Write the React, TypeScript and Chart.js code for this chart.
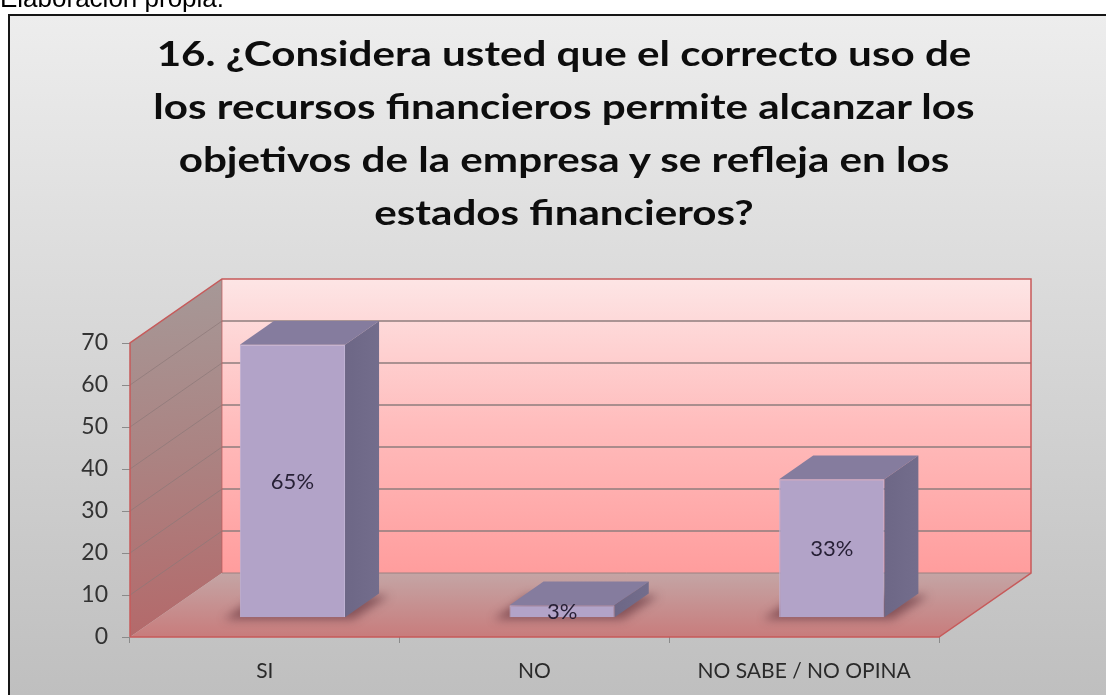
import React, { useEffect, useRef } from "react";
import { Chart, registerables } from "chart.js";

Chart.register(...registerables);

// ---------- data ----------
const categories = ["SI", "NO", "NO SABE / NO OPINA"];
const values = [65, 3, 33];
const valueLabels = ["65%", "3%", "33%"];
const yTickValues = [0, 10, 20, 30, 40, 50, 60, 70];
const titleLines = [
  "16. ¿Considera usted que el correcto uso de",
  "los recursos financieros permite alcanzar los",
  "objetivos de la empresa y se refleja en los",
  "estados financieros?",
];
const caption = "Elaboración propia.";

// ---------- layout / style ----------
const W = 1106;
const H = 695;
const DX = 92; // depth offset of the 3D box
const DY = -64;
const F1 = 0.3; // bar front face depth fraction
const F2 = 0.67; // bar back face depth fraction

function poly(ctx: CanvasRenderingContext2D, pts: number[][]) {
  ctx.beginPath();
  ctx.moveTo(pts[0][0], pts[0][1]);
  for (let i = 1; i < pts.length; i++) ctx.lineTo(pts[i][0], pts[i][1]);
  ctx.closePath();
}

const threeD = {
  id: "threeD",
  beforeDraw(chart: any) {
    const ctx: CanvasRenderingContext2D = chart.ctx;
    ctx.save();
    const g = ctx.createLinearGradient(0, 16, 0, H);
    g.addColorStop(0, "#ededed");
    g.addColorStop(1, "#bfbfbf");
    ctx.fillStyle = g;
    ctx.fillRect(9, 15, W - 9, H - 15);
    ctx.fillStyle = "#161616";
    ctx.fillRect(8, 14, W - 8, 2);
    ctx.fillRect(8, 14, 2, H - 14);
    ctx.restore();
  },
  beforeDatasetsDraw(chart: any) {
    const ctx: CanvasRenderingContext2D = chart.ctx;
    const a = chart.chartArea;
    const ys = chart.scales.y;
    const L = a.left, R = a.right, T = a.top, B = a.bottom;
    ctx.save();
    // back wall
    let g = ctx.createLinearGradient(0, T + DY, 0, B + DY);
    g.addColorStop(0, "#fde5e5");
    g.addColorStop(0.5, "#ffbcbc");
    g.addColorStop(1, "#ff9d9d");
    ctx.fillStyle = g;
    ctx.fillRect(L + DX, T + DY, R - L, B - T);
    // left wall
    g = ctx.createLinearGradient(L, T + DY, L + DX * 0.3, B);
    g.addColorStop(0, "#a69998");
    g.addColorStop(0.5, "#ab8382");
    g.addColorStop(1, "#b4696a");
    ctx.fillStyle = g;
    poly(ctx, [[L, T], [L + DX, T + DY], [L + DX, B + DY], [L, B]]);
    ctx.fill();
    // floor
    g = ctx.createLinearGradient(0, B + DY, 0, B);
    g.addColorStop(0, "#c4a5a5");
    g.addColorStop(1, "#c87c7c");
    ctx.fillStyle = g;
    poly(ctx, [[L, B], [R, B], [R + DX, B + DY], [L + DX, B + DY]]);
    ctx.fill();
    // gridlines
    for (const v of yTickValues) {
      const py = ys.getPixelForValue(v);
      if (v > 0 && v < 70) {
        ctx.strokeStyle = "#8e7c7c";
        ctx.lineWidth = 1.5;
        ctx.beginPath();
        ctx.moveTo(L + DX, py + DY);
        ctx.lineTo(R + DX, py + DY);
        ctx.stroke();
        ctx.strokeStyle = "rgba(140,120,120,0.7)";
        ctx.lineWidth = 1;
        ctx.beginPath();
        ctx.moveTo(L, py);
        ctx.lineTo(L + DX, py + DY);
        ctx.stroke();
      }
    }
    ctx.strokeStyle = "#9a8080";
    ctx.lineWidth = 1;
    ctx.beginPath();
    ctx.moveTo(L + DX, B + DY);
    ctx.lineTo(R + DX, B + DY);
    ctx.stroke();
    // red edges
    ctx.strokeStyle = "#c65a5a";
    ctx.lineWidth = 1.5;
    ctx.beginPath();
    ctx.moveTo(L, B);
    ctx.lineTo(L, T);
    ctx.lineTo(L + DX, T + DY);
    ctx.lineTo(R + DX, T + DY);
    ctx.lineTo(R + DX, B + DY);
    ctx.lineTo(R, B);
    ctx.lineTo(L, B);
    ctx.stroke();
    ctx.strokeStyle = "rgba(190,90,90,0.7)";
    ctx.lineWidth = 1;
    ctx.beginPath();
    ctx.moveTo(L + DX, T + DY);
    ctx.lineTo(L + DX, B + DY);
    ctx.stroke();
    // bar shadows on floor
    const meta = chart.getDatasetMeta(0);
    const fx = DX * F1, fy = DY * F1;
    const sdx = DX * (F2 - F1), sdy = DY * (F2 - F1);
    ctx.filter = "blur(5px)";
    ctx.fillStyle = "rgba(80,35,45,0.55)";
    meta.data.forEach((bar: any) => {
      const p = bar.getProps(["x", "width", "base"], true);
      const x0 = p.x - p.width / 2 + fx;
      const x1 = p.x + p.width / 2 + fx;
      const yb = p.base + fy;
      poly(ctx, [
        [x0 - 16, yb + 2],
        [x1 + 8, yb + 2],
        [x1 + sdx + 10, yb + sdy + 2],
        [x0 + sdx - 16, yb + sdy + 2],
      ]);
      ctx.fill();
    });
    ctx.filter = "none";
    ctx.restore();
    // translate so the library draws the bar front faces at their depth
    ctx.save();
    ctx.translate(fx, fy);
  },
  afterDatasetsDraw(chart: any) {
    const ctx: CanvasRenderingContext2D = chart.ctx;
    ctx.restore();
    const meta = chart.getDatasetMeta(0);
    const fx = DX * F1, fy = DY * F1;
    const sdx = DX * (F2 - F1), sdy = DY * (F2 - F1);
    ctx.save();
    meta.data.forEach((bar: any, i: number) => {
      const p = bar.getProps(["x", "y", "width", "base"], true);
      const x0 = p.x - p.width / 2 + fx;
      const x1 = p.x + p.width / 2 + fx;
      const yt = p.y + fy;
      const yb = p.base + fy;
      // top face
      ctx.fillStyle = "#857c9e";
      poly(ctx, [[x0, yt], [x1, yt], [x1 + sdx, yt + sdy], [x0 + sdx, yt + sdy]]);
      ctx.fill();
      // side face
      const sg = ctx.createLinearGradient(x1, 0, x1 + sdx, 0);
      sg.addColorStop(0, "#6d6786");
      sg.addColorStop(1, "#736d8c");
      ctx.fillStyle = sg;
      poly(ctx, [[x1, yt], [x1 + sdx, yt + sdy], [x1 + sdx, yb + sdy], [x1, yb]]);
      ctx.fill();
      // label
      ctx.fillStyle = "#261f35";
      ctx.font = "22px Lato";
      ctx.textAlign = "center";
      ctx.textBaseline = "middle";
      ctx.fillText(valueLabels[i], (x0 + x1) / 2, (yt + yb) / 2 + 1);
    });
    ctx.restore();
  },
};

export default function App() {
  const ref = useRef<HTMLCanvasElement | null>(null);
  useEffect(() => {
    const canvas = ref.current;
    if (!canvas) return;
    const chart = new Chart(canvas, {
      type: "bar",
      data: {
        labels: categories,
        datasets: [
          {
            data: values,
            backgroundColor: "#b2a3c8",
            borderColor: "#bfb2d4",
            borderWidth: 1,
            barPercentage: 0.39,
            categoryPercentage: 1,
            clip: false as any,
          },
        ],
      },
      options: {
        responsive: false,
        animation: false,
        events: [],
        layout: { padding: { top: 343, left: 0, right: W - 939, bottom: 0 } },
        plugins: {
          legend: { display: false },
          title: { display: false },
          tooltip: { enabled: false },
        },
        scales: {
          x: {
            grid: {
              display: true,
              drawOnChartArea: false,
              drawTicks: true,
              tickLength: 6,
              color: "#8a8a8a",
              offset: true,
            },
            border: { display: false },
            ticks: {
              color: "#2a2a2a",
              font: { family: "Lato", size: 21 },
              padding: 16,
              maxRotation: 0,
            },
            afterFit: (s: any) => {
              s.height = H - 637;
            },
          },
          y: {
            min: 0,
            max: 70,
            grid: {
              display: true,
              drawOnChartArea: false,
              drawTicks: true,
              tickLength: 8,
              color: "#8a8a8a",
            },
            border: { display: false },
            ticks: {
              stepSize: 10,
              color: "#333333",
              font: { family: "Lato", size: 23 },
              padding: 14,
            },
            afterBuildTicks: (s: any) => {
              s.ticks = yTickValues.map((v) => ({ value: v }));
            },
            afterFit: (s: any) => {
              s.width = 130;
            },
          },
        },
      },
      plugins: [threeD],
    });
    return () => chart.destroy();
  }, []);

  return (
    <div
      style={{
        position: "absolute",
        left: 0,
        top: 0,
        width: W,
        height: H,
        overflow: "hidden",
      }}
    >
      <canvas
        ref={ref}
        width={W}
        height={H}
        style={{ position: "absolute", left: 0, top: 0, width: W, height: H }}
      />
      <div
        style={{
          position: "absolute",
          left: 0,
          top: -17,
          fontFamily: "'Liberation Sans', Arial, sans-serif",
          fontSize: 26,
          lineHeight: "30px",
          color: "#000",
          whiteSpace: "nowrap",
        }}
      >
        {caption}
      </div>
      {titleLines.map((t, i) => (
        <div
          key={i}
          style={{
            position: "absolute",
            left: 0,
            width: 1128,
            top: 36 + i * 53,
            textAlign: "center",
            fontFamily: "Lato, sans-serif",
            fontWeight: 700,
            fontSize: 34,
            lineHeight: "34px",
            color: "#0d0d0d",
            whiteSpace: "nowrap",
            transform: "scaleX(1.24)",
            transformOrigin: "564px 50%",
          }}
        >
          {t}
        </div>
      ))}
    </div>
  );
}
